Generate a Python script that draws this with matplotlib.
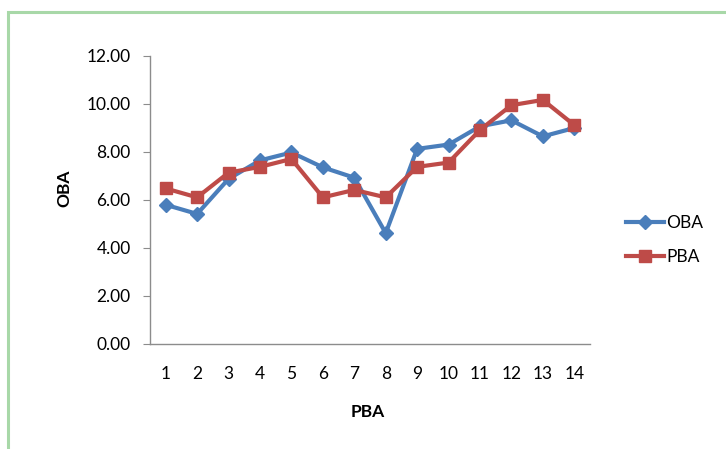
import matplotlib
matplotlib.use('Agg')
import matplotlib.pyplot as plt
from matplotlib.patches import Rectangle

plt.rcParams['font.family'] = ['Lato', 'DejaVu Sans']

samples = [str(i) for i in range(1, 15)]
oba = [5.8, 5.42, 6.88, 7.65, 7.98, 7.36, 6.93, 4.62, 8.13, 8.31, 9.07, 9.32, 8.65, 9.0]
pba = [6.48, 6.11, 7.14, 7.38, 7.71, 6.11, 6.42, 6.11, 7.38, 7.56, 8.92, 9.95, 10.17, 9.12]

blue = '#4a7ebb'
red = '#be4b48'
fs = 12.5

fig = plt.figure(figsize=(7.26, 4.49), dpi=100)
ax = fig.add_axes([150 / 726, 1 - 344 / 449, 440 / 726, 288 / 449])

x = list(range(1, len(samples) + 1))
ax.plot(x, oba, color=blue, lw=3, marker='D', ms=7, label='OBA')
ax.plot(x, pba, color=red, lw=3, marker='s', ms=9, label='PBA')

ax.set_xlim(0.5, 14.5)
ax.set_ylim(0, 12)
ax.set_yticks(range(0, 13, 2))
ax.set_yticklabels(['%.2f' % v for v in range(0, 13, 2)])
ax.set_xticks(x)
ax.set_xticklabels(samples)

for s in ['top', 'right']:
    ax.spines[s].set_visible(False)
for s in ['left', 'bottom']:
    ax.spines[s].set_color('#8c8c8c')
    ax.spines[s].set_linewidth(1)
ax.tick_params(axis='y', length=5, color='#8c8c8c', pad=9, labelsize=fs)
ax.tick_params(axis='x', length=0, pad=16, labelsize=fs)

fig.text(64 / 726, 1 - 188 / 449, 'OBA', rotation=90, ha='center', va='center',
         fontsize=fs, fontweight='bold')
fig.text(368 / 726, 1 - 412 / 449, 'PBA', ha='center', va='center',
         fontsize=fs, fontweight='bold')

fig.legend(loc='center left', bbox_to_anchor=(617 / 726, 1 - 240 / 449), frameon=False,
           fontsize=fs, handlelength=2.2, handletextpad=0.15, labelspacing=1.0,
           borderpad=0)

fig.patches.append(Rectangle((8 / 726, -0.1), 1.2, 1 - 12 / 449 + 0.1, transform=fig.transFigure,
                             fill=False, edgecolor='#a8d8a8', lw=2.2))

fig.savefig('out.png', dpi=100)
